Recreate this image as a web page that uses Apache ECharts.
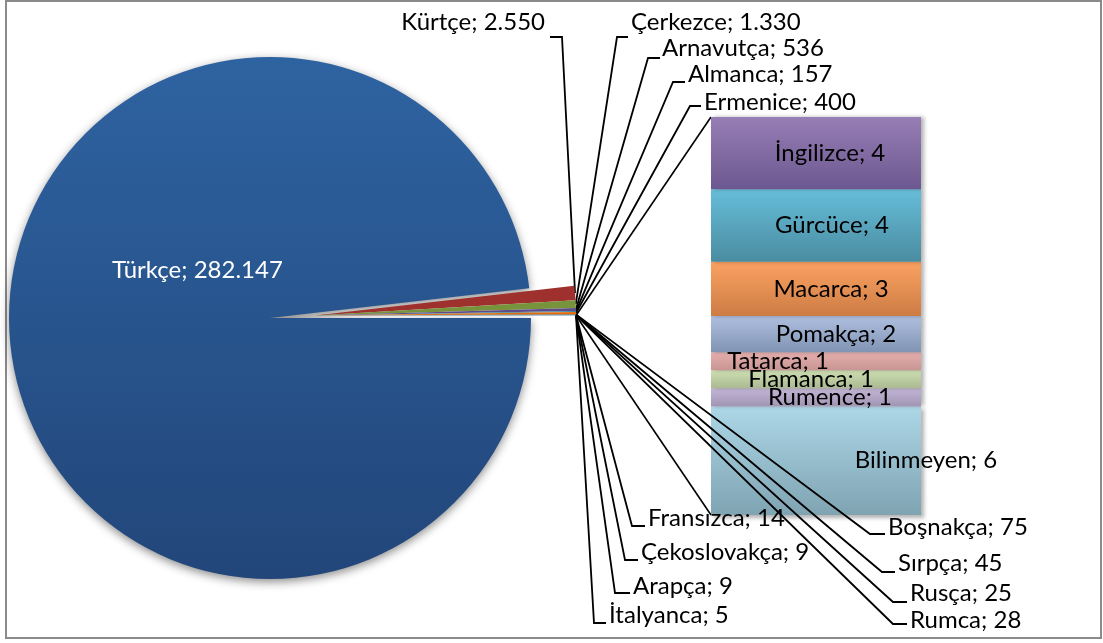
<!DOCTYPE html>
<html><head><meta charset="utf-8">
<script src="https://cdn.jsdelivr.net/npm/echarts@6/dist/echarts.min.js"></script>
<style>html,body{margin:0;padding:0;background:#fff}#c{width:1103px;height:643px}</style>
</head><body><div id="c"></div>
<script>
// ---- data ----
const mainName = 'Türkçe';
const mainValue = 282147;
const pieNames = ['Kürtçe','Çerkezce','Arnavutça','Almanca','Ermenice','Boşnakça','Sırpça','Rusça','Rumca','Fransızca','Çekoslovakça','Arapça','İtalyanca'];
const pieValues = [2550,1330,536,157,400,75,45,25,28,14,9,9,5];
const barNames = ['İngilizce','Gürcüce','Macarca','Pomakça','Tatarca','Flamanca','Rumence','Bilinmeyen'];
const barValues = [4,4,3,2,1,1,1,6];

// ---- styles / layout ----
const FONT = 'Lato';
const FS = 24;
const pieColors = ['#9E302D','#77933C','#5F4B8B','#31859C','#E46C0A','#8B3A38','#5E7530','#4B3B6E','#276A7C','#B65608','#C0504D','#9BBB59','#8064A2'];
const barTop = ['#977EB5','#66BDDA','#FBA262','#AFBFE0','#E6AFAE','#CFE0B3','#C3B6D6','#ADD7E7'];
const barBot = ['#6C5890','#4A8CA0','#CD7C44','#8194B3','#C79593','#AAB991','#A195B4','#7FA3B1'];
const barLabelOffset = [14,16,15,20,-38,-5,14,110];
const labelSpots = {
  'Kürtçe':      {x:545, y:22,  align:'right', knee:[562,37],  end:[550,37]},
  'Çerkezce':    {x:631, y:22,  align:'left',  knee:[617,37],  end:[628,37]},
  'Arnavutça':   {x:662, y:48,  align:'left',  knee:[648,58],  end:[660,58]},
  'Almanca':     {x:688, y:74,  align:'left',  knee:[673,82],  end:[685,82]},
  'Ermenice':    {x:704, y:102, align:'left',  knee:[690,106], end:[701,106]},
  'Fransızca':   {x:648, y:518, align:'left',  knee:[632,526], end:[645,526]},
  'Çekoslovakça':{x:641, y:552, align:'left',  knee:[625,560], end:[638,560]},
  'Arapça':      {x:633, y:586, align:'left',  knee:[615,593], end:[630,593]},
  'İtalyanca':   {x:609, y:615, align:'left',  knee:[594,623], end:[606,623]},
  'Boşnakça':    {x:888, y:527, align:'left',  knee:[870,534], end:[885,534]},
  'Sırpça':      {x:898, y:563, align:'left',  knee:[882,572], end:[895,572]},
  'Rusça':       {x:910, y:593, align:'left',  knee:[893,602], end:[907,602]},
  'Rumca':       {x:910, y:620, align:'left',  knee:[893,624], end:[907,624]}
};
const R = 261;
const centerA = [270, 318];
const centerB = [315, 315.5];
const grid = {left:711, top:117, width:210, height:398};

function fmt(v){ return String(v).replace(/\B(?=(\d{3})+(?!\d))/g, '.'); }
const otherValue = barValues.reduce((a,b)=>a+b,0);
const restValue = pieValues.reduce((a,b)=>a+b,0) + otherValue;
const hidden = {itemStyle:{color:'rgba(0,0,0,0)', shadowBlur:0}, label:{show:false}, labelLine:{show:false}, emphasis:{disabled:true}};

const chart = echarts.init(document.getElementById('c'), null, {renderer:'canvas'});

const seriesA = {
  type:'pie', center:centerA, radius:R, startAngle:0, clockwise:true, animation:false,
  avoidLabelOverlap:false, silent:true, z:1,
  data:[
    {name:mainName, value:mainValue,
      itemStyle:{color:new echarts.graphic.LinearGradient(0,0,0,1,[{offset:0,color:'#2E63A1'},{offset:1,color:'#22467A'}]),
        shadowBlur:10, shadowColor:'rgba(0,0,0,0.45)', shadowOffsetY:3},
      label:{show:true, position:'inside', color:'#fff', fontFamily:FONT, fontSize:FS,
        formatter:p=>p.name+'; '+fmt(p.value)}},
    Object.assign({name:'_rest', value:restValue}, hidden)
  ],
  labelLayout:function(p){ if(p.dataIndex===0) return {x:112, y:270, align:'left', verticalAlign:'middle'}; }
};

const dataB = [Object.assign({name:'_main', value:mainValue}, hidden)];
pieNames.forEach((n,i)=>dataB.push({name:n, value:pieValues[i], itemStyle:{color:pieColors[i]}}));
dataB.push(Object.assign({name:'_other', value:otherValue}, hidden, {itemStyle:{color:'#4BACC6'}}));

const seriesB = {
  type:'pie', center:centerB, radius:R, startAngle:0, clockwise:true, animation:false,
  avoidLabelOverlap:false, z:4,
  label:{show:true, position:'outside', color:'#000', fontFamily:FONT, fontSize:FS,
    formatter:p=>p.name+'; '+fmt(p.value)},
  labelLine:{show:true, length:10, length2:10, lineStyle:{color:'#000', width:1.8}},
  data:dataB,
  labelLayout:function(p){
    const n = dataB[p.dataIndex].name;
    const s = labelSpots[n];
    if(!s) return;
    const p0 = p.labelLinePoints ? p.labelLinePoints[0] : [centerB[0]+R, centerB[1]];
    return {x:s.x, y:s.y, align:s.align, verticalAlign:'middle',
      labelLinePoints:[p0, s.knee, s.end]};
  }
};

const barSeries = [];
for(let i=barNames.length-1;i>=0;i--){
  barSeries.push({
    type:'bar', name:barNames[i], stack:'o', barWidth:'100%', animation:false,
    xAxisIndex:0, yAxisIndex:0, z:2,
    data:[barValues[i]],
    itemStyle:{color:new echarts.graphic.LinearGradient(0,0,0,1,[{offset:0,color:barTop[i]},{offset:1,color:barBot[i]}]),
      shadowBlur:4, shadowColor:'rgba(0,0,0,0.3)', shadowOffsetX:3, shadowOffsetY:i===barNames.length-1?3:0},
    label:{show:true, position:'inside', color:'#000', fontFamily:FONT, fontSize:FS,
      offset:[barLabelOffset[i],0], formatter:p=>p.seriesName+'; '+fmt(p.value)}
  });
}

chart.setOption({
  backgroundColor:'#fff',
  animation:false,
  grid:Object.assign({containLabel:false}, grid),
  xAxis:{type:'category', data:['Diğer'], show:false},
  yAxis:{type:'value', min:0, max:otherValue, show:false},
  series:[seriesA, seriesB].concat(barSeries)
});

// series lines from the "other" slice to the bar
const angOther = (otherValue/2)/(mainValue+restValue)*2*Math.PI;
const px = [centerB[0]+R*Math.cos(angOther), centerB[1]-R*Math.sin(angOther)];
const topMid = chart.convertToPixel({xAxisIndex:0, yAxisIndex:0}, ['Diğer', otherValue]);
const botMid = chart.convertToPixel({xAxisIndex:0, yAxisIndex:0}, ['Diğer', 0]);
const leftX = topMid[0] - grid.width/2;
chart.setOption({
  graphic:[
    {type:'rect', shape:{x:6, y:1, width:1095, height:637}, style:{fill:'none', stroke:'#8a8a8a', lineWidth:2}, z:0, silent:true},
    {type:'line', shape:{x1:px[0], y1:px[1], x2:leftX, y2:topMid[1]}, style:{stroke:'#000', lineWidth:1.6}, z:1},
    {type:'line', shape:{x1:px[0], y1:px[1], x2:leftX, y2:botMid[1]}, style:{stroke:'#000', lineWidth:1.6}, z:1}
  ]
});
</script></body></html>
